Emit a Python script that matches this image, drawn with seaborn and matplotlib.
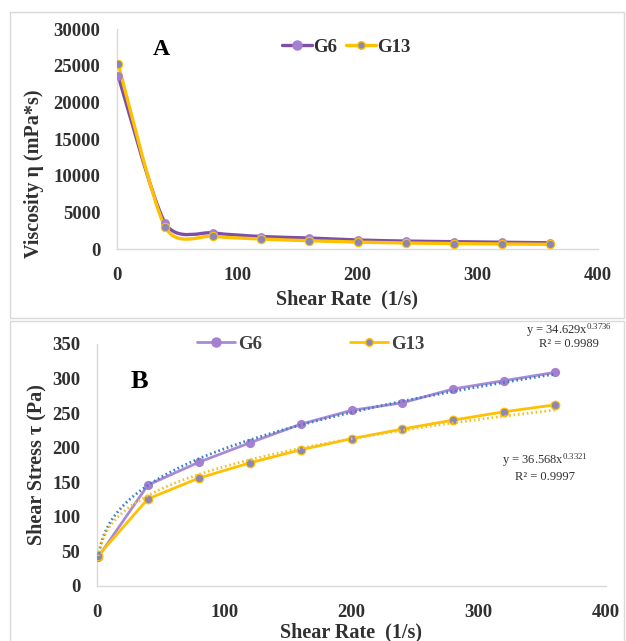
import numpy as np
import pandas as pd
import matplotlib
matplotlib.use("Agg")
import matplotlib.pyplot as plt
from matplotlib.path import Path
from matplotlib.patches import PathPatch, Rectangle
from matplotlib.lines import Line2D
import seaborn as sns

# data
shear_rate = [1, 40, 80, 120, 160, 200, 240, 280, 320, 360]
visc_g6 = [23600, 3550, 2200, 1700, 1500, 1230, 1080, 1000, 920, 850]
visc_g13 = [25200, 3000, 1750, 1360, 1130, 950, 820, 740, 690, 640]
stress_g6 = [42, 146, 179, 207, 234, 254, 265, 285, 297, 309]
stress_g13 = [44, 126, 156, 178, 197, 213, 227, 240, 252, 262]
groups = ["G6", "G13"]
eq_g6 = ("34.629", "0.3736", "0.9989")
eq_g13 = ("36.568", "0.3321", "0.9997")

visc = pd.DataFrame({"rate": shear_rate * 2, "value": visc_g6 + visc_g13,
                     "group": ["G6"] * 10 + ["G13"] * 10})
stress = pd.DataFrame({"rate": shear_rate * 2, "value": stress_g6 + stress_g13,
                       "group": ["G6"] * 10 + ["G13"] * 10})

sns.set_theme(style="white")
plt.rcParams["font.family"] = ["Liberation Serif", "DejaVu Serif"]
plt.rcParams["mathtext.fontset"] = "custom"
plt.rcParams["mathtext.rm"] = "Liberation Serif"
plt.rcParams["mathtext.it"] = "Liberation Serif:italic"
plt.rcParams["mathtext.bf"] = "Liberation Serif:bold"

TXT = "#303030"
GRID = "#D9D9D9"
PURPLE_A = "#7E4FA8"
PURPLE_B = "#A98AD6"
PURPLE_MK = "#A57FD0"
GOLD = "#FFC000"
G13_MK = "#8C86B8"
BLUE_TREND = "#3A7FC8"
GOLD_TREND = "#F2C12E"
TICK_FS = 13.5
LABEL_FS = 14.5


def smooth_path(x, y, k=1 / 8):
    # smoothed line like excel's, cardinal spline drawn as bezier
    pts = np.column_stack([np.asarray(x, float), np.asarray(y, float)])
    n = len(pts)
    verts = [pts[0]]
    codes = [Path.MOVETO]
    for i in range(n - 1):
        p0 = pts[max(i - 1, 0)]
        p1, p2 = pts[i], pts[i + 1]
        p3 = pts[min(i + 2, n - 1)]
        verts += [p1 + (p2 - p0) * k, p2 - (p3 - p1) * k, p2]
        codes += [Path.CURVE4] * 3
    return Path(verts, codes)


def style_axes(ax, pad_x, pad_y):
    sns.despine(ax=ax)
    for s in ["left", "bottom"]:
        ax.spines[s].set_color(GRID)
        ax.spines[s].set_linewidth(1.0)
    ax.tick_params(length=0, labelsize=TICK_FS, colors=TXT)
    ax.tick_params(axis="x", pad=pad_x)
    ax.tick_params(axis="y", pad=pad_y)
    for lab in ax.get_xticklabels() + ax.get_yticklabels():
        lab.set_fontweight("bold")
    ax.set_xlim(0, 400)
    ax.set_xticks([0, 100, 200, 300, 400])


fig = plt.figure(figsize=(6.26, 6.41), dpi=100)

# panel frames
fig.patches.append(Rectangle((10 / 626, 1 - 318 / 641), 614 / 626, 306 / 641,
                             transform=fig.transFigure, fill=False,
                             edgecolor=GRID, linewidth=1.0))
fig.patches.append(Rectangle((10 / 626, -0.01), 614 / 626, 1 - 321 / 641 + 0.01,
                             transform=fig.transFigure, fill=False,
                             edgecolor=GRID, linewidth=1.0))

# ---- panel A ----
axA = fig.add_axes([117 / 626, 1 - 249 / 641, 481 / 626, 220 / 641])
for g, col in zip(groups, [PURPLE_A, GOLD]):
    sub = visc[visc.group == g]
    axA.add_patch(PathPatch(smooth_path(sub.rate, sub.value), fill=False,
                            edgecolor=col, linewidth=2.4, zorder=2))
sns.scatterplot(data=visc[visc.group == "G6"], x="rate", y="value",
                color=PURPLE_MK, s=40, edgecolor=None, linewidth=0,
                ax=axA, zorder=3)
sns.scatterplot(data=visc[visc.group == "G13"], x="rate", y="value",
                color=G13_MK, s=36, edgecolor=GOLD, linewidth=0.8,
                ax=axA, zorder=4)
axA.set_ylim(0, 30000)
axA.set_yticks(range(0, 30001, 5000))
style_axes(axA, 13, 12)
axA.set_xlabel("Shear Rate  (1/s)", fontsize=LABEL_FS, fontweight="bold", color=TXT)
axA.set_ylabel("Viscosity η (mPa*s)", fontsize=LABEL_FS, fontweight="bold", color=TXT)
axA.xaxis.set_label_coords(0.478, -0.186)
axA.yaxis.set_label_coords(-0.152, 0.34)
axA.text(0.0915, 0.905, "A", transform=axA.transAxes, fontsize=17,
         fontweight="bold", color="black", va="center", ha="center")
hA = [Line2D([], [], color=PURPLE_A, lw=2.4, marker="o", ms=6.5,
             mfc=PURPLE_MK, mec=PURPLE_MK),
      Line2D([], [], color=GOLD, lw=2.4, marker="o", ms=5.5,
             mfc=G13_MK, mec=GOLD)]
legA = fig.legend(hA, groups, loc="center", bbox_to_anchor=(346 / 626, 1 - 47 / 641),
                  ncol=2, frameon=False, handlelength=1.6, handletextpad=0.05,
                  columnspacing=0.5, prop={"size": TICK_FS, "weight": "bold"})
for t in legA.get_texts():
    t.set_color(TXT)

# ---- panel B ----
axB = fig.add_axes([97 / 626, 1 - 586 / 641, 509 / 626, 242 / 641])
# power-law trendlines fitted to the data
for g, col in zip(groups, [BLUE_TREND, GOLD_TREND]):
    sub = stress[stress.group == g]
    b, ln_a = np.polyfit(np.log(sub.rate), np.log(sub.value), 1)
    xs = np.linspace(min(shear_rate), max(shear_rate), 200)
    sns.lineplot(x=xs, y=np.exp(ln_a) * xs ** b, color=col, lw=2.0,
                 linestyle=(0, (0.6, 1.0)), ax=axB, zorder=4)
sns.lineplot(data=stress, x="rate", y="value", hue="group",
             palette={"G6": PURPLE_B, "G13": GOLD}, lw=2.0,
             legend=False, ax=axB, zorder=2)
sns.scatterplot(data=stress[stress.group == "G6"], x="rate", y="value",
                color=PURPLE_MK, s=44, edgecolor=None, linewidth=0,
                ax=axB, zorder=3)
sns.scatterplot(data=stress[stress.group == "G13"], x="rate", y="value",
                color=G13_MK, s=38, edgecolor=GOLD, linewidth=0.9,
                ax=axB, zorder=3)
axB.set_ylim(0, 350)
axB.set_yticks(range(0, 351, 50))
style_axes(axB, 13, 12)
axB.set_xlabel("Shear Rate  (1/s)", fontsize=LABEL_FS, fontweight="bold", color=TXT)
axB.set_ylabel("Shear Stress τ (Pa)", fontsize=LABEL_FS, fontweight="bold", color=TXT)
axB.xaxis.set_label_coords(0.5, -0.149)
axB.yaxis.set_label_coords(-0.10, 0.5)
axB.text(0.083, 0.843, "B", transform=axB.transAxes, fontsize=19,
         fontweight="bold", color="black", va="center", ha="center")
hB = [Line2D([], [], color=PURPLE_B, lw=2.0, marker="o", ms=6.5,
             mfc=PURPLE_MK, mec=PURPLE_MK),
      Line2D([], [], color=GOLD, lw=2.0, marker="o", ms=5.5,
             mfc=G13_MK, mec=GOLD)]
legB = fig.legend(hB, groups, loc="center", bbox_to_anchor=(311 / 626, 1 - 344 / 641),
                  ncol=2, frameon=False, handlelength=2.0, handletextpad=0.2,
                  columnspacing=4.7, prop={"size": TICK_FS, "weight": "bold"})
for t in legB.get_texts():
    t.set_color("#404040")

fig.text(569 / 626, 1 - 330 / 641, f"y = {eq_g6[0]}x$^{{\\mathrm{{{eq_g6[1]}}}}}$",
         fontsize=9, color=TXT, ha="center", va="center")
fig.text(569 / 626, 1 - 344 / 641, f"R² = {eq_g6[2]}",
         fontsize=9, color=TXT, ha="center", va="center")
fig.text(545 / 626, 1 - 460 / 641, f"y = {eq_g13[0]}x$^{{\\mathrm{{{eq_g13[1]}}}}}$",
         fontsize=9, color=TXT, ha="center", va="center")
fig.text(545 / 626, 1 - 477 / 641, f"R² = {eq_g13[2]}",
         fontsize=9, color=TXT, ha="center", va="center")

fig.savefig("out.png", dpi=100, facecolor="white")
